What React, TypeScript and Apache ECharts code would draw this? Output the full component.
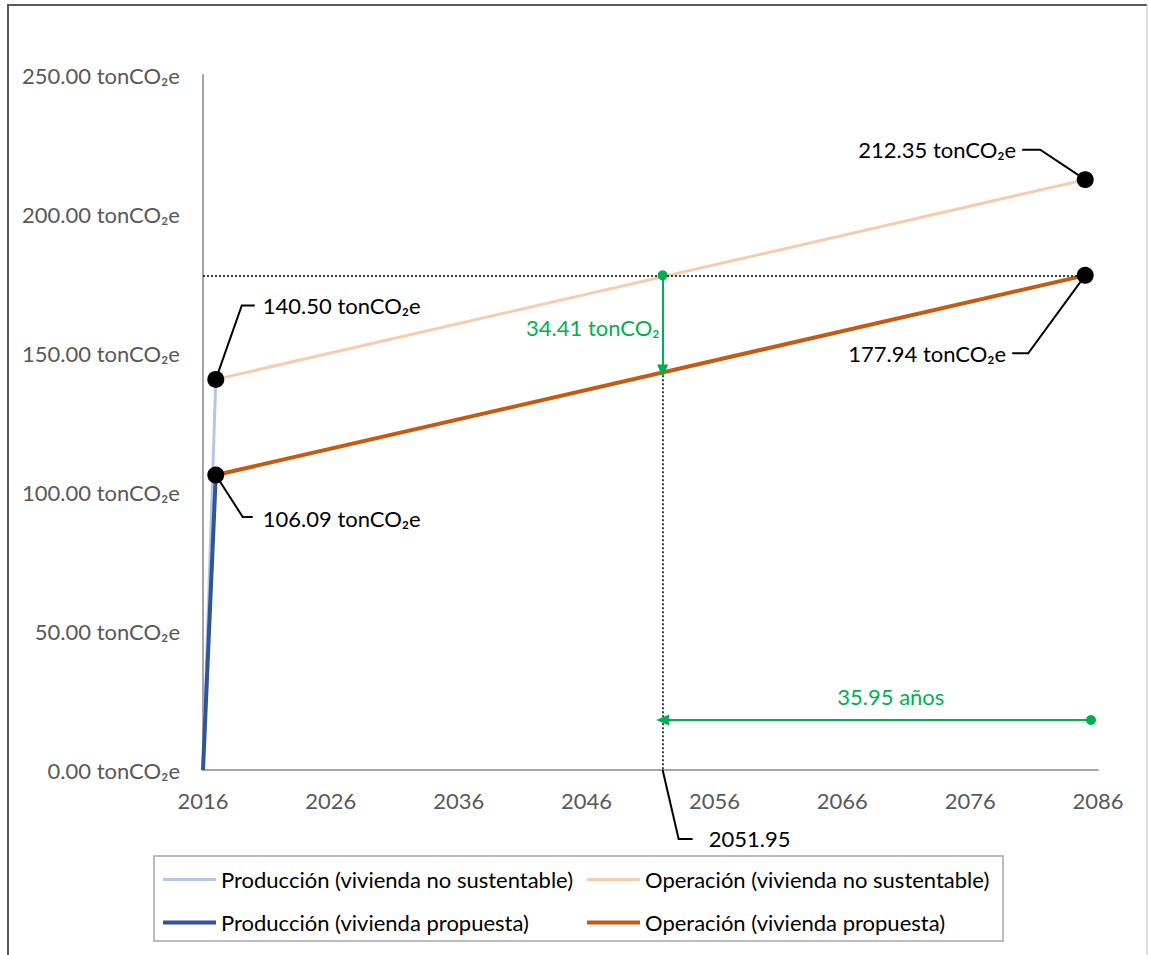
import { useEffect, useRef } from "react";
import * as echarts from "echarts";

// Horizontal axis is stored as years; the chart works in years since BASE_YEAR.
const BASE_YEAR = 2016;
const X_MAX_YEAR = 2086;
const X_STEP = 10;
const Y_MAX = 250;
const Y_STEP = 50;

// Embodied (production) emissions: jump during the construction year.
const prodYears = [2016, 2017];
const prodNoSust = [0, 140.5];
const prodProp = [0, 106.09];

// Operational emissions accumulated over the service life.
const opYears = [2017, 2085];
const opNoSust = [140.5, 212.35];
const opProp = [106.09, 177.94];

// Key results
const breakEvenYear = 2051.95;
const breakEvenValue = 177.94;
const savingsAtBreakEven = 34.41;
const paybackYears = 35.95;
const paybackArrowStart = 2085.45;
const paybackArrowLevel = 18;

const NAMES = {
  prodNo: "Producción (vivienda no sustentable)",
  opNo: "Operación (vivienda no sustentable)",
  prodProp: "Producción (vivienda propuesta)",
  opProp: "Operación (vivienda propuesta)",
};

const FONT = "Lato";
const FS = 22;
const GREEN = "#00b050";
const THIN = 3;
const THICK = 4;

const toXY = (years: number[], vals: number[]) =>
  years.map((y, i) => [y - BASE_YEAR, vals[i]]);

export default function App() {
  const ref = useRef<HTMLDivElement>(null);

  useEffect(() => {
    const chart = echarts.init(ref.current!, null, { renderer: "svg" });

    const lineSeries = (name: string, data: number[][], color: string, width: number, z: number) => ({
      name,
      type: "line",
      data,
      symbol: "none",
      showSymbol: false,
      z,
      lineStyle: { color, width },
      itemStyle: { color },
      emphasis: { disabled: true },
    });

    const markers = [
      [prodYears[1] - BASE_YEAR, prodNoSust[1]],
      [prodYears[1] - BASE_YEAR, prodProp[1]],
      [opYears[1] - BASE_YEAR, opNoSust[1]],
      [opYears[1] - BASE_YEAR, opProp[1]],
    ];

    const be = breakEvenYear - BASE_YEAR;
    const dotted = { type: [2, 2], color: "#000", width: 1.5 };

    const legendBase = {
      orient: "vertical",
      top: 868,
      itemWidth: 53,
      itemHeight: 14,
      itemGap: 20,
      padding: 0,
      itemStyle: { opacity: 0 },
      textStyle: { fontSize: FS, fontFamily: FONT, color: "#000", lineHeight: 23 },
      selectedMode: false,
    };

    const option: any = {
      animation: false,
      textStyle: { fontFamily: FONT },
      grid: { left: 203, right: 51, top: 75, bottom: 185, containLabel: false },
      xAxis: {
        type: "value",
        min: 0,
        max: X_MAX_YEAR - BASE_YEAR,
        interval: X_STEP,
        axisLine: { show: true, lineStyle: { color: "#a6a6a6", width: 2 } },
        axisTick: { show: false },
        splitLine: { show: false },
        axisLabel: {
          color: "#595959",
          fontSize: FS,
          fontFamily: FONT,
          margin: 19,
          formatter: (v: number) => String(v + BASE_YEAR),
        },
      },
      yAxis: {
        type: "value",
        min: 0,
        max: Y_MAX,
        interval: Y_STEP,
        axisLine: { show: true, lineStyle: { color: "#a6a6a6", width: 2 } },
        axisTick: { show: false },
        splitLine: { show: false },
        axisLabel: {
          color: "#595959",
          fontSize: FS,
          fontFamily: FONT,
          margin: 23,
          formatter: (v: number) => v.toFixed(2) + " tonCO₂e",
        },
      },
      legend: [
        {
          ...legendBase,
          left: 161,
          data: [
            { name: NAMES.prodNo, lineStyle: { width: THIN } },
            { name: NAMES.prodProp, lineStyle: { width: THICK } },
          ],
        },
        {
          ...legendBase,
          left: 585,
          data: [
            { name: NAMES.opNo, lineStyle: { width: THIN } },
            { name: NAMES.opProp, lineStyle: { width: THICK } },
          ],
        },
      ],
      series: [
        lineSeries(NAMES.prodNo, toXY(prodYears, prodNoSust), "#b4c7e7", THIN, 2),
        lineSeries(NAMES.opNo, toXY(opYears, opNoSust), "#f8cbad", THIN, 2),
        lineSeries(NAMES.prodProp, toXY(prodYears, prodProp), "#2f5597", THICK, 3),
        lineSeries(NAMES.opProp, toXY(opYears, opProp), "#c55a11", THICK, 3),
        {
          name: "annotations",
          type: "line",
          data: [],
          z: 4,
          markLine: {
            silent: true,
            animation: false,
            label: { show: false },
            symbol: ["none", "none"],
            data: [
              [
                { coord: [0, breakEvenValue], lineStyle: dotted },
                { coord: [opYears[1] - BASE_YEAR, breakEvenValue] },
              ],
              [
                { coord: [be, breakEvenValue], lineStyle: dotted },
                { coord: [be, 0] },
              ],
              [
                {
                  coord: [be, breakEvenValue],
                  symbol: "circle",
                  symbolSize: 10,
                  lineStyle: { color: GREEN, width: 2, type: "solid" },
                  itemStyle: { color: GREEN },
                },
                {
                  coord: [be, breakEvenValue - savingsAtBreakEven],
                  symbol: "triangle",
                  symbolSize: [11, 13],
                  itemStyle: { color: GREEN },
                },
              ],
              [
                {
                  coord: [paybackArrowStart - BASE_YEAR, paybackArrowLevel],
                  symbol: "circle",
                  symbolSize: 10,
                  lineStyle: { color: GREEN, width: 2, type: "solid" },
                  itemStyle: { color: GREEN },
                },
                {
                  coord: [be, paybackArrowLevel],
                  symbol: "triangle",
                  symbolSize: [11, 13],
                  itemStyle: { color: GREEN },
                },
              ],
            ],
          },
        },
        {
          name: "markers",
          type: "scatter",
          data: markers,
          symbol: "circle",
          symbolSize: 17,
          z: 6,
          itemStyle: { color: "#000", opacity: 1 },
          emphasis: { disabled: true },
        },
      ],
    };

    chart.setOption(option);

    const px = (year: number, v: number) =>
      chart.convertToPixel({ gridIndex: 0 }, [year - BASE_YEAR, v]) as number[];

    const leader = (pts: number[][]) => ({
      type: "polyline",
      shape: { points: pts },
      style: { stroke: "#000", lineWidth: 2, fill: null },
      z: 100,
    });
    const text = (x: number, y: number, t: string, align: string, color = "#000") => ({
      type: "text",
      x,
      y,
      z: 100,
      style: {
        text: t,
        fill: color,
        fontSize: FS,
        fontFamily: FONT,
        align,
        verticalAlign: "middle",
      },
    });

    const a = px(prodYears[1], prodNoSust[1]);
    const b = px(prodYears[1], prodProp[1]);
    const c = px(opYears[1], opNoSust[1]);
    const d = px(opYears[1], opProp[1]);
    const e = px(breakEvenYear, 0);
    const f = px(breakEvenYear, breakEvenValue);
    const g = px(paybackArrowStart, paybackArrowLevel);

    const graphic: any[] = [
      // chart frame
      { type: "line", shape: { x1: 8, y1: 5, x2: 8, y2: 955 }, style: { stroke: "#595959", lineWidth: 2 } },
      { type: "line", shape: { x1: 7, y1: 5, x2: 1147, y2: 5 }, style: { stroke: "#595959", lineWidth: 2 } },
      { type: "line", shape: { x1: 1147, y1: 5, x2: 1147, y2: 955 }, style: { stroke: "#bfbfbf", lineWidth: 1 } },
      // legend frame
      {
        type: "rect",
        shape: { x: 154, y: 856, width: 849, height: 85 },
        style: { stroke: "#a6a6a6", lineWidth: 1.5, fill: null },
        z: -1,
      },
      leader([a, [a[0] + 26, a[1] - 74], [a[0] + 39, a[1] - 74]]),
      text(a[0] + 47, a[1] - 74, prodNoSust[1].toFixed(2) + " tonCO₂e", "left"),
      leader([b, [b[0] + 27, b[1] + 42], [b[0] + 37, b[1] + 42]]),
      text(b[0] + 47, b[1] + 43, prodProp[1].toFixed(2) + " tonCO₂e", "left"),
      leader([c, [c[0] - 45, c[1] - 30], [c[0] - 63, c[1] - 30]]),
      text(c[0] - 69, c[1] - 30, opNoSust[1].toFixed(2) + " tonCO₂e", "right"),
      leader([d, [d[0] - 57, d[1] + 78], [d[0] - 73, d[1] + 78]]),
      text(d[0] - 79, d[1] + 78, opProp[1].toFixed(2) + " tonCO₂e", "right"),
      leader([e, [e[0] + 16, e[1] + 69], [e[0] + 30, e[1] + 69]]),
      text(e[0] + 46, e[1] + 68, breakEvenYear.toFixed(2), "left"),
      text(f[0] - 3, f[1] + 52, savingsAtBreakEven.toFixed(2) + " tonCO₂", "right", GREEN),
      text((f[0] + g[0]) / 2 + 14, g[1] - 23, paybackYears.toFixed(2) + " años", "center", GREEN),
    ];

    chart.setOption({ graphic });

    return () => chart.dispose();
  }, []);

  return (
    <div
      ref={ref}
      style={{ position: "absolute", left: 0, top: 0, width: 1149, height: 955, background: "#fff" }}
    />
  );
}
